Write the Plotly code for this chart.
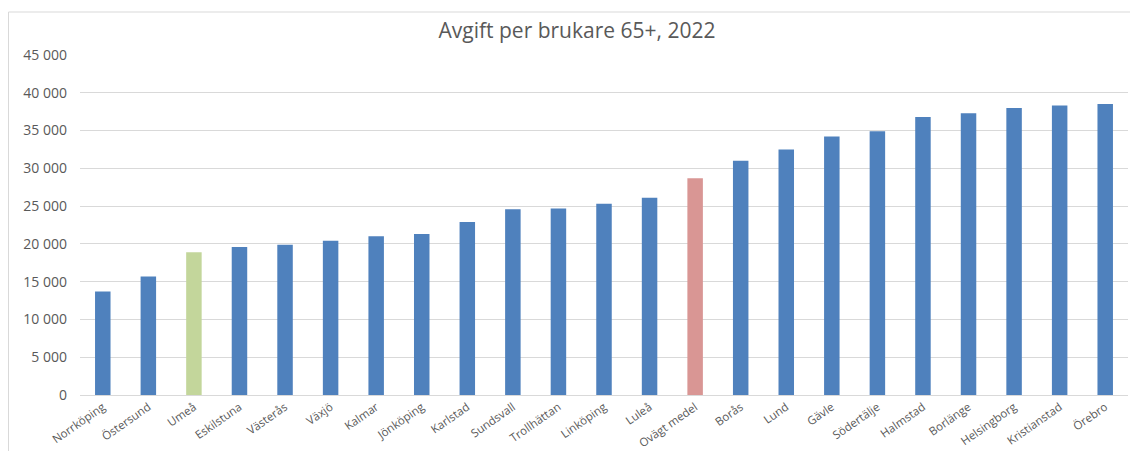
import plotly.graph_objects as go

categories = ["Norrköping", "Östersund", "Umeå", "Eskilstuna", "Västerås", "Växjö", "Kalmar",
              "Jönköping", "Karlstad", "Sundsvall", "Trollhättan", "Linköping", "Luleå",
              "Ovägt medel", "Borås", "Lund", "Gävle", "Södertälje", "Halmstad", "Borlänge",
              "Helsingborg", "Kristianstad", "Örebro"]
values = [13700, 15700, 18900, 19600, 19900, 20400, 21000,
          21300, 22900, 24600, 24700, 25300, 26100,
          28700, 31000, 32500, 34200, 34900, 36800, 37300,
          38000, 38300, 38500]
highlight = {"Umeå": "#C3D69B", "Ovägt medel": "#D99694"}
base_color = "#4F81BD"
colors = [highlight.get(c, base_color) for c in categories]

tickvals = list(range(0, 45001, 5000))
ticktext = [f"{v:,}".replace(",", " ") for v in tickvals]

W, H = 1130, 443  # page body has an 8px margin

fig = go.Figure(go.Bar(
    x=categories, y=values,
    marker=dict(color=colors, line=dict(width=0)),
    width=0.34,
))

fig.update_layout(
    width=W, height=H,
    margin=dict(l=72, r=10, t=47, b=56),
    paper_bgcolor="white", plot_bgcolor="white",
    showlegend=False,
    font=dict(family="Open Sans, sans-serif", color="#595959"),
    title=dict(text="Avgift per brukare 65+, 2022", x=569 / W, xref="container",
               y=1 - 23 / H, yref="container", yanchor="middle", xanchor="center",
               font=dict(size=21, color="#595959")),
    xaxis=dict(tickangle=-35, tickfont=dict(size=11.5, color="#595959"),
               showline=True, linecolor="#D9D9D9", linewidth=1,
               showgrid=False, ticks="", automargin=False),
    yaxis=dict(range=[0, 45000], tickvals=tickvals, ticktext=ticktext,
               tickfont=dict(size=14, color="#595959"),
               showgrid=True, gridcolor="#D9D9D9", gridwidth=1,
               zeroline=False, showline=False, ticks="",
               ticklabelstandoff=12, automargin=False),
    shapes=[dict(type="rect", xref="paper", yref="paper",
                 x0=-71.5 / 1048, x1=1.2, y0=-0.5, y1=1 + 43 / 340,
                 line=dict(color="#D9D9D9", width=1), fillcolor="rgba(0,0,0,0)",
                 layer="below")],
)

fig.write_html("out.html")
